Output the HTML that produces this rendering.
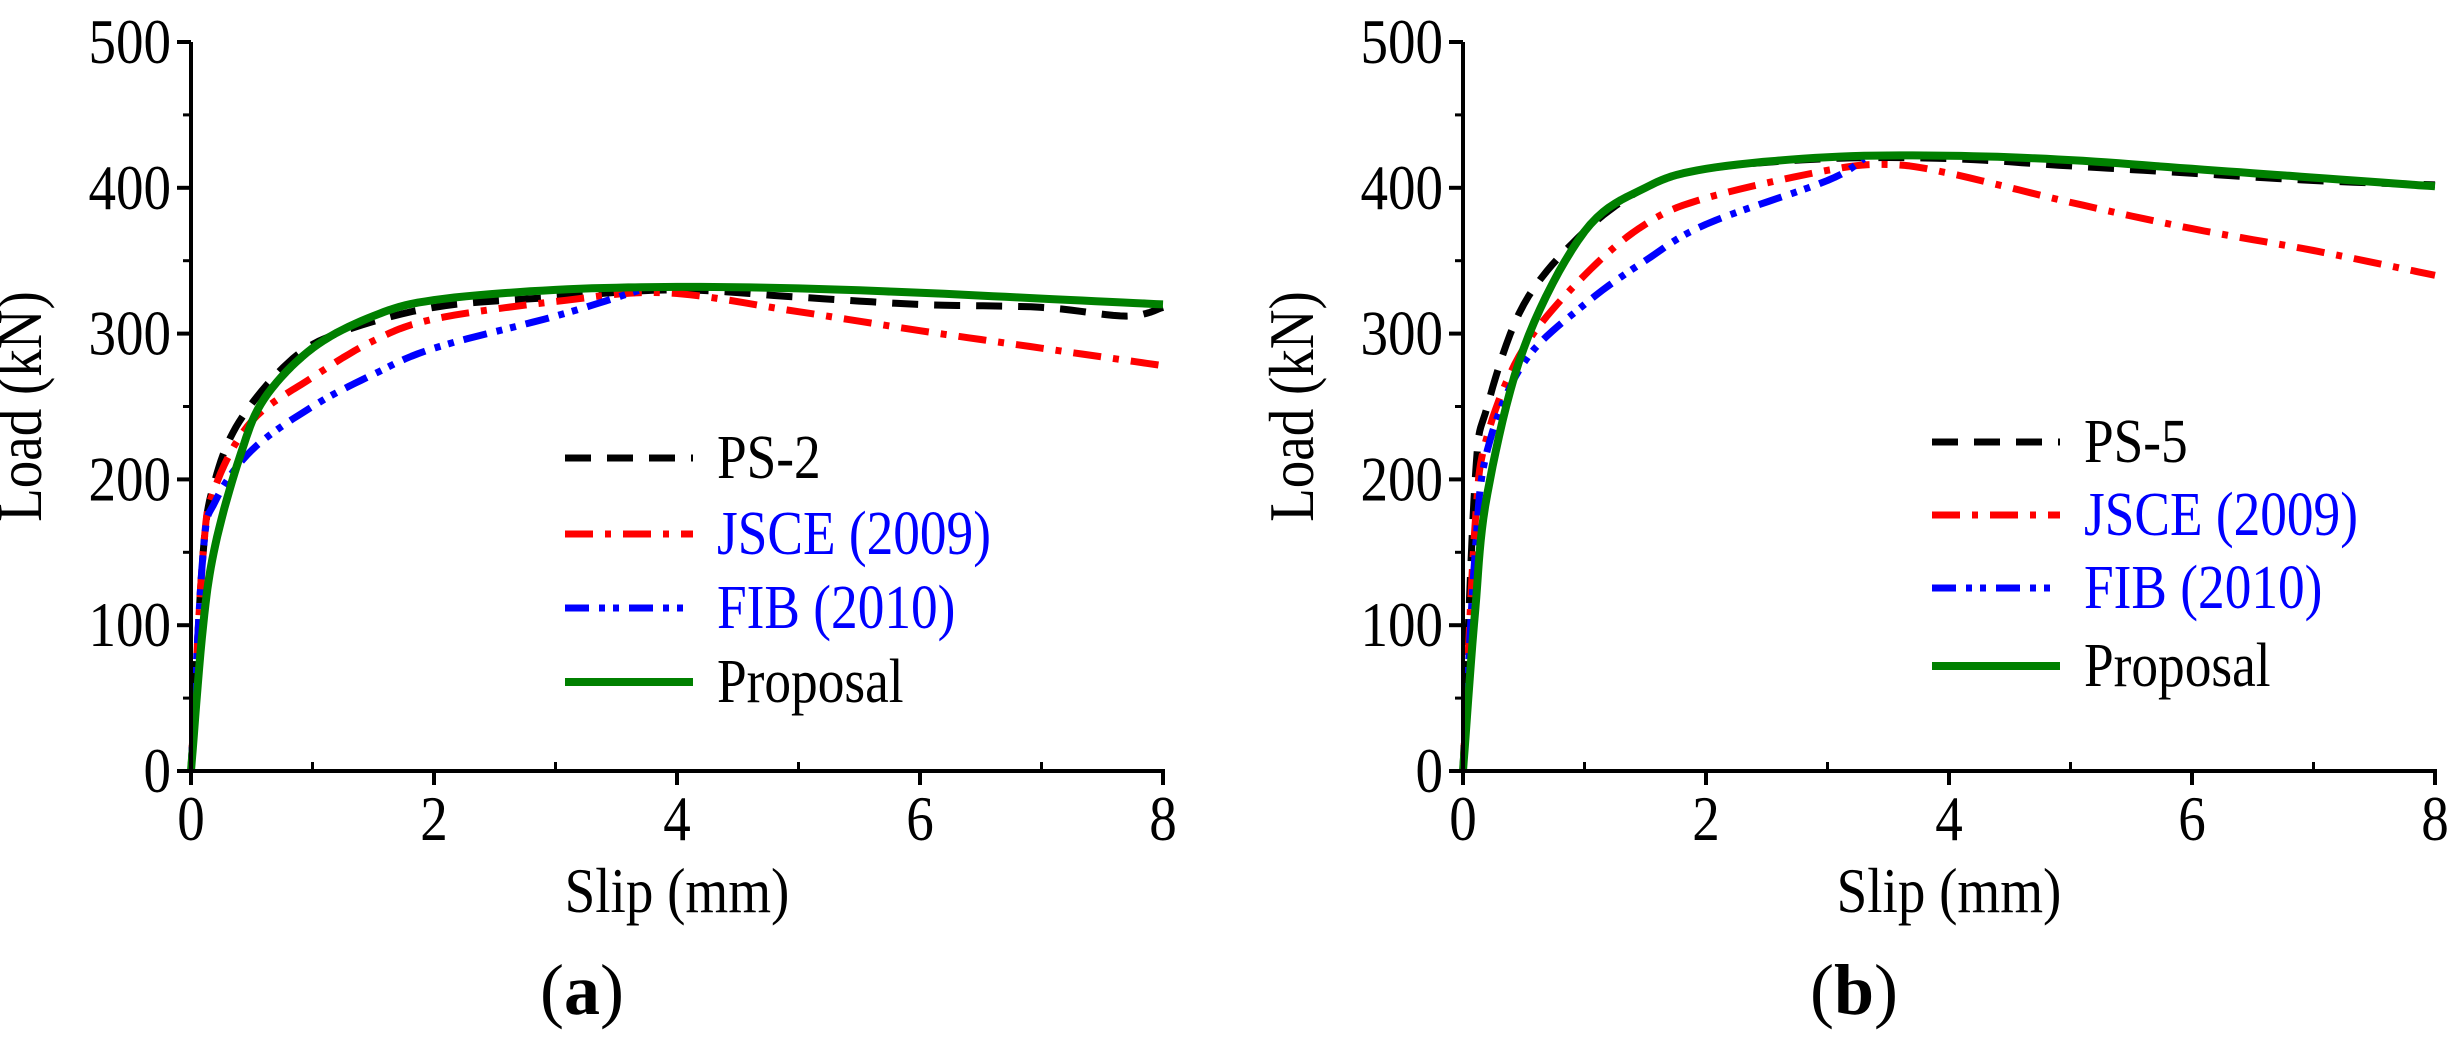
<!DOCTYPE html>
<html><head><meta charset="utf-8"><style>
html,body{margin:0;padding:0;background:#fff;}
svg{display:block;}
text{font-family:"Liberation Serif","Times New Roman","DejaVu Serif","Noto Serif CJK SC",serif;}
</style></head><body>
<svg id="s" width="2463" height="1037" viewBox="0 0 2463 1037" xmlns="http://www.w3.org/2000/svg"></svg>
<script>
const s=document.getElementById('s');
let h='';
function T(x,y,str,size,anchor,fill){
  const k=0.86;
  return `<text transform="translate(${x},${y}) scale(${k},1)" font-size="${size}" text-anchor="${anchor}" fill="${fill||'#000'}">${str}</text>`;
}
function panel(x0,data,leg,lab){
  const W=972,y0=771,H=729;
  const X=v=>x0+v/8*W, Y=v=>y0-v/500*H;
  for(const d of data){
    const p=d.pts.map((q,i)=>(i?'L':'M')+X(q[0]).toFixed(1)+' '+Y(q[1]).toFixed(1)).join(' ');
    h+=`<path d="${p}" fill="none" stroke="${d.c}" stroke-width="${d.w}" stroke-dasharray="${d.da}" stroke-linejoin="round"/>`;
  }
  h+=`<path d="M${x0} 42 V${y0} H${x0+W} V${y0+9}" fill="none" stroke="#000" stroke-width="4"/>`;
  for(let i=0;i<=8;i++){
    if(i%2==0){h+=`<line x1="${X(i)}" y1="${y0}" x2="${X(i)}" y2="${y0+14}" stroke="#000" stroke-width="4"/>`;
      h+=T(X(i),840,i,64,'middle');}
    else h+=`<line x1="${X(i)}" y1="${y0}" x2="${X(i)}" y2="${y0-9}" stroke="#000" stroke-width="3"/>`;
  }
  for(let v=0;v<=500;v+=50){
    const maj=v%100==0;
    h+=`<line x1="${x0}" y1="${Y(v)}" x2="${x0-(maj?14:8)}" y2="${Y(v)}" stroke="#000" stroke-width="${maj?4:3}"/>`;
    if(maj)h+=T(x0-20,Y(v)+21,v,64,'end');
  }
  h+=T(x0+W/2,912,'Slip (mm)',64,'middle');
  h+=`<text transform="translate(${x0-150},${y0-H/2}) rotate(-90) scale(0.86,1)" font-size="64" text-anchor="middle">Load (kN)</text>`;
  h+=`<text x="${x0+W/2-95}" y="1014" font-size="72" text-anchor="middle">(<tspan font-weight="bold">${lab}</tspan>)</text>`;
  leg.rows.forEach((r,i)=>{
    const d=data[i], y=leg.ys[i];
    h+=`<line x1="${leg.x}" y1="${y}" x2="${leg.x+128}" y2="${y}" stroke="${d.c}" stroke-width="${d.w}" stroke-dasharray="${d.da}"/>`;
    h+=T(leg.x+152,y+20,r[0],62,'start',r[1]);
  });
}
function smooth(pts){
  const out=[];
  for(let i=0;i<pts.length-1;i++){
    const p0=pts[Math.max(i-1,0)],p1=pts[i],p2=pts[i+1],p3=pts[Math.min(i+2,pts.length-1)];
    for(let t=0;t<1;t+=0.1){
      const t2=t*t,t3=t2*t;
      const f=(a,b,c,d)=>0.5*((2*b)+(-a+c)*t+(2*a-5*b+4*c-d)*t2+(-a+3*b-3*c+d)*t3);
      out.push([f(p0[0],p1[0],p2[0],p3[0]),f(p0[1],p1[1],p2[1],p3[1])]);
    }
  }
  out.push(pts[pts.length-1]);return out;
}
const A=[
 {c:'#000',w:7,da:'26 16',pts:[[0,0],[0.1,150],[0.2,200],[0.4,240],[0.8,280],[1.2,300],[2,318],[3,325],[4,330],[5,325],[6,320],[7,318],[7.7,312],[8,318]]},
 {c:'#f00',w:7,da:'28 12 6 12',pts:[[0,0],[0.1,150],[0.2,195],[0.5,240],[1,270],[1.5,295],[2,310],[3,322],[3.9,328],[5,315],[6,302],[7,290],[8,278]]},
 {c:'#00f',w:7,da:'24 10 6 8 6 10',pts:[[0,0],[0.1,150],[0.2,185],[0.5,220],[1,250],[1.5,272],[2,290],[3,312],[3.7,330]]},
 {c:'#008000',w:8,da:'none',pts:[[0,0],[0.1,100],[0.2,155],[0.4,215],[0.6,255],[1,290],[1.5,312],[2,323],[3,330],[4,332],[5,331],[6,328],[7,324],[8,320]]}
];
const B=[
 {c:'#000',w:7,da:'26 16',pts:[[0,0],[0.1,200],[0.2,250],[0.5,320],[1,370],[1.5,400],[2,413],[3,420],[4,420],[5,415],[6,410],[7,405],[8,402]]},
 {c:'#f00',w:7,da:'28 12 6 12',pts:[[0,0],[0.1,170],[0.2,230],[0.5,290],[1,340],[1.5,375],[2,393],[3,412],[3.5,416],[4,410],[5,390],[6,372],[7,357],[8,340]]},
 {c:'#00f',w:7,da:'24 10 6 8 6 10',pts:[[0,0],[0.1,150],[0.2,220],[0.5,280],[1,320],[1.5,350],[2,375],[3,405],[3.3,420]]},
 {c:'#008000',w:8,da:'none',pts:[[0,0],[0.1,110],[0.2,190],[0.5,290],[1,370],[1.5,400],[2,413],[3,421],[4,422],[5,419],[6,413],[7,407],[8,401]]}
];
for(const d of A.concat(B)) d.pts=smooth(d.pts);
panel(191,A,{x:565,ys:[458,534,608,682],rows:[['PS-2','#000'],['JSCE (2009)','#00f'],['FIB (2010)','#00f'],['Proposal','#000']]},'a');
panel(1463,B,{x:1932,ys:[442,515,588,666],rows:[['PS-5','#000'],['JSCE (2009)','#00f'],['FIB (2010)','#00f'],['Proposal','#000']]},'b');
s.innerHTML=h;
</script>
</body></html>
